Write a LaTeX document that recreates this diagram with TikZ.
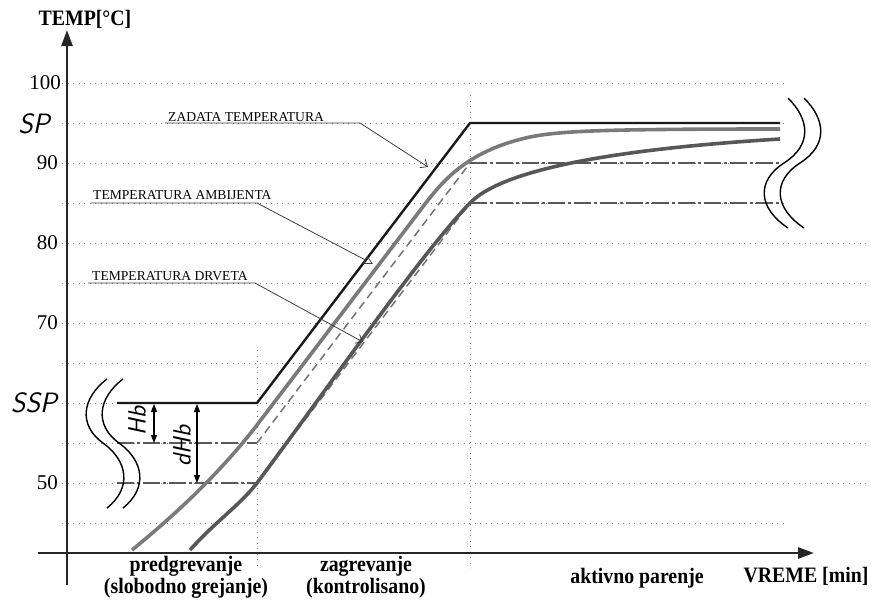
\documentclass[tikz,border=0pt]{standalone}
\usepackage{fontspec}
\setmainfont{Liberation Serif}
\newfontfamily\condserif[FakeStretch=0.9]{Liberation Serif}
\usetikzlibrary{arrows.meta}
\begin{document}
\begin{tikzpicture}[x=1pt,y=-1pt,
  gridln/.style={draw=black!50, line width=0.9pt, dash pattern=on 1.2pt off 4.3pt},
  spline/.style={draw=black!90, line width=2.4pt, line join=miter},
  ambline/.style={draw=black!52, line width=3.6pt},
  woodline/.style={draw=black!66, line width=3.6pt},
  ideal/.style={draw=black!55, line width=1.5pt, dash pattern=on 8pt off 5pt},
  dashdot/.style={draw=black!65, line width=1.3pt, dash pattern=on 17pt off 3pt on 3pt off 3pt},
  leader/.style={draw=black!75, line width=0.8pt},
  wave/.style={draw=black, line width=1.4pt},
  axisln/.style={draw=black!85, line width=2.6pt, -{Triangle[length=16pt,width=11pt]}},
  ticklbl/.style={font=\fontsize{21}{23}\selectfont, anchor=east, inner sep=0pt},
  seg/.style={font=\sffamily\slshape\fontsize{28}{30}\selectfont, inner sep=0pt},
  lbl/.style={font=\fontsize{13.6}{15}\selectfont, inner sep=0pt, anchor=base west},
  bot/.style={font=\condserif\bfseries\fontsize{22}{22}\selectfont, inner sep=0pt, align=center},
  dimarrow/.style={draw=black, line width=1.2pt, {Triangle[length=8pt,width=6pt]}-{Triangle[length=8pt,width=6pt]}},
]
\useasboundingbox (0,0) rectangle (874,600);

% grid
\foreach \yy/\xe in {83/785,123/785,163/785,203/785,243/870,283/870,323/870,363/870,403/870,443/870,483/870,523/785}
  \draw[gridln] (62,\yy) -- (\xe,\yy);
\draw[gridln] (257,350) -- (257,568);
\draw[gridln] (470,95) -- (470,568);

% axes
\coordinate (yb) at (67,585);
\coordinate (yt) at (67,30);
\coordinate (xl) at (38,553);
\coordinate (xr) at (814,553);
\draw[axisln] (yb) -- (yt);
\draw[axisln] (xl) -- (xr);

% tick labels
\node[ticklbl] (t100) at (61,83) {100};
\node[ticklbl] (t90) at (58,163) {90};
\node[ticklbl] (t80) at (58,243) {80};
\node[ticklbl] (t70) at (58,323) {70};
\node[ticklbl] (t50) at (58,483) {50};
\node[seg] (sp) at (34,124) {SP};
\node[seg] (ssp) at (34,403) {SSP};

% key points
\coordinate (s1) at (117,403);
\coordinate (s2) at (257,403);
\coordinate (s3) at (470,123);
\coordinate (s4) at (780,123);
\coordinate (a0) at (257,443);
\coordinate (a1) at (470,163);
\coordinate (a2) at (780,163);
\coordinate (w0) at (257,483);
\coordinate (w1) at (470,203);
\coordinate (w2) at (780,203);
\coordinate (ha) at (117,443);
\coordinate (hw) at (117,483);

% dash-dot levels
\draw[dashdot] (ha) -- (a0);
\draw[dashdot] (hw) -- (w0);
\draw[dashdot] (a1) -- (a2);
\draw[dashdot] (w1) -- (w2);

% ideal dashed ramps
\draw[ideal] (a0) -- (a1);
\draw[ideal] (w0) -- (w1);

% ambient curve
\draw[ambline] (132,550) .. controls (175,515) and (220,473) .. (257,425) -- (425,204)
  .. controls (445,178) and (470,150) .. (530,137) .. controls (560,131) and (600,129) .. (780,129);
% wood curve
\draw[woodline] (190,550) .. controls (215,522) and (240,505) .. (w0)
  .. controls (330,385) and (420,255) .. (w1) .. controls (500,172) and (600,150) .. (780,139);

% setpoint
\draw[spline] (s1) -- (s2) -- (s3) -- (s4);

% labels with leaders
\node[lbl] (zt) at (168,121) {ZADATA TEMPERATURA};
\coordinate (zu1) at (165,123);
\coordinate (zu2) at (360,123);
\coordinate (za) at (428,167);
\draw[leader, -{Straight Barb[length=6pt,width=10pt]}] (zu1) -- (zu2) -- (za);

\node[lbl] (at) at (93,199) {TEMPERATURA AMBIJENTA};
\coordinate (au1) at (91,203);
\coordinate (au2) at (257,203);
\coordinate (aa) at (373,264);
\draw[leader, -{Triangle[open,length=9pt,width=9pt]}] (au1) -- (au2) -- (aa);

\node[lbl] (dt) at (92,280) {TEMPERATURA DRVETA};
\coordinate (du1) at (88,283);
\coordinate (du2) at (255,283);
\coordinate (da) at (363,342);
\draw[leader, -{Straight Barb[length=6pt,width=10pt]}] (du1) -- (du2) -- (da);

% break marks right
\draw[wave] (788,98) .. controls (810,120) and (812,145) .. (784,163) .. controls (756,181) and (758,208) .. (788,228);
\draw[wave] (804,98) .. controls (826,120) and (828,145) .. (800,163) .. controls (772,181) and (774,208) .. (804,228);
% break marks left
\draw[wave] (107,379) .. controls (82,398) and (78,425) .. (103,443) .. controls (128,461) and (132,488) .. (107,508);
\draw[wave] (123,379) .. controls (98,398) and (94,425) .. (119,443) .. controls (144,461) and (148,488) .. (123,508);

% hysteresis arrows
\coordinate (hb1) at (154,404);
\coordinate (hb2) at (154,443);
\coordinate (dh1) at (197,404);
\coordinate (dh2) at (197,483);
\draw[dimarrow] (hb1) -- (hb2);
\draw[dimarrow] (dh1) -- (dh2);
\node[seg, rotate=90, font=\sffamily\slshape\fontsize{25}{27}\selectfont] (hbl) at (137,421) {Hb};
\node[seg, rotate=90, font=\sffamily\slshape\fontsize{25}{27}\selectfont] (dhbl) at (182,446) {dHb};

% axis titles and phase labels
\node[bot] (temp) at (85,19) {TEMP[°C]};
\node[bot] (pre) at (186,577) {predgrevanje\\(slobodno grejanje)};
\node[bot] (zag) at (366,577) {zagrevanje\\(kontrolisano)};
\node[bot] (akt) at (637,578) {aktivno parenje};
\node[bot] (vre) at (806,576) {VREME [min]};
\end{tikzpicture}
\end{document}
